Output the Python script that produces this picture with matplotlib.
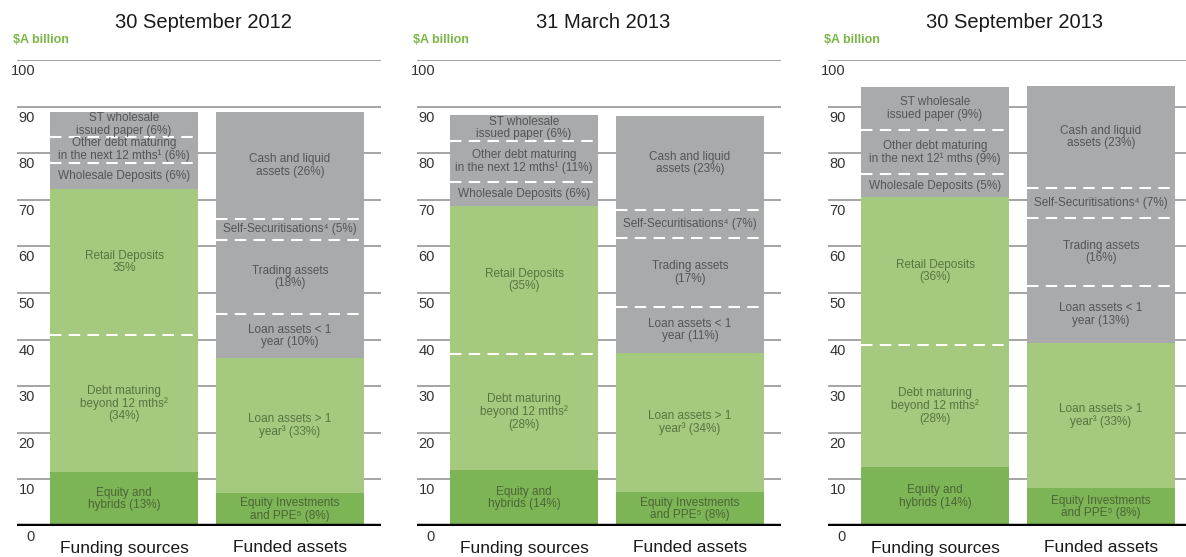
import matplotlib
matplotlib.use('Agg')
import matplotlib.pyplot as plt

plt.rcParams['font.family'] = ['Liberation Sans', 'DejaVu Sans']

# Panel titles and bar categories
dates = ['30 September 2012', '31 March 2013', '30 September 2013']
bar_names = ['Funding sources', 'Funded assets']
y_ticks = [0, 10, 20, 30, 40, 50, 60, 70, 80, 90, 100]

# Segment values in $A billion, bottom to top
sep12_funding = [11.6, 29.4, 31.3, 5.6, 5.6, 5.3]
sep12_assets = [7.1, 28.9, 9.5, 15.9, 4.5, 22.9]
mar13_funding = [12.0, 24.9, 31.8, 5.1, 8.8, 5.6]
mar13_assets = [7.3, 29.8, 9.9, 14.8, 6.0, 20.2]
sep13_funding = [12.7, 26.1, 31.8, 4.9, 9.5, 9.2]
sep13_assets = [8.2, 31.1, 12.2, 14.6, 6.4, 21.9]

sep12_funding_labels = ['Equity and\nhybrids (13%)', 'Debt maturing\nbeyond 12 mths²\n(34%)',
                        'Retail Deposits\n35%', 'Wholesale Deposits (6%)',
                        'Other debt maturing\nin the next 12 mths¹ (6%)', 'ST wholesale\nissued paper (6%)']
sep12_assets_labels = ['Equity Investments\nand PPE⁵ (8%)', 'Loan assets > 1\nyear³ (33%)',
                       'Loan assets < 1\nyear (10%)', 'Trading assets\n(18%)',
                       'Self-Securitisations⁴ (5%)', 'Cash and liquid\nassets (26%)']
mar13_funding_labels = ['Equity and\nhybrids (14%)', 'Debt maturing\nbeyond 12 mths²\n(28%)',
                        'Retail Deposits\n(35%)', 'Wholesale Deposits (6%)',
                        'Other debt maturing\nin the next 12 mths¹ (11%)', 'ST wholesale\nissued paper (6%)']
mar13_assets_labels = ['Equity Investments\nand PPE⁵ (8%)', 'Loan assets > 1\nyear³ (34%)',
                       'Loan assets < 1\nyear (11%)', 'Trading assets\n(17%)',
                       'Self-Securitisations⁴ (7%)', 'Cash and liquid\nassets (23%)']
sep13_funding_labels = ['Equity and\nhybrids (14%)', 'Debt maturing\nbeyond 12 mths²\n(28%)',
                        'Retail Deposits\n(36%)', 'Wholesale Deposits (5%)',
                        'Other debt maturing\nin the next 12¹ mths (9%)', 'ST wholesale\nissued paper (9%)']
sep13_assets_labels = ['Equity Investments\nand PPE⁵ (8%)', 'Loan assets > 1\nyear³ (33%)',
                       'Loan assets < 1\nyear (13%)', 'Trading assets\n(16%)',
                       'Self-Securitisations⁴ (7%)', 'Cash and liquid\nassets (23%)']

DARK = '#7db456'
LIGHT = '#a5c97f'
GREY = '#a9aaac'
funding_colors = [DARK, LIGHT, LIGHT, GREY, GREY, GREY]
assets_colors = [DARK, LIGHT, GREY, GREY, GREY, GREY]
text_colors = {DARK: '#4a6636', LIGHT: '#58753f', GREY: '#555555'}

panels = [
    (sep12_funding, sep12_funding_labels, sep12_assets, sep12_assets_labels),
    (mar13_funding, mar13_funding_labels, mar13_assets, mar13_assets_labels),
    (sep13_funding, sep13_funding_labels, sep13_assets, sep13_assets_labels),
]

W, H = 1186, 557
fig = plt.figure(figsize=(W / 100, H / 100), dpi=100)
fig.patch.set_facecolor('white')

ax_left_px = [17, 417, 828]
ax_w_px = 364
base_px = 526   # from top
top_px = 60
bar_w = 0.89


def draw_stack(ax, x, values, labels, colors):
    bottom = 0
    for i, (v, lab, c) in enumerate(zip(values, labels, colors)):
        ax.bar(x, v, bottom=bottom, width=bar_w, color=c, edgecolor='none', zorder=2)
        ax.text(x, bottom + v / 2, lab, ha='center', va='center', fontsize=8.5,
                color=text_colors[c], linespacing=1.05, zorder=4)
        if i > 0 and colors[i - 1] == c:
            ax.plot([x - bar_w / 2, x + bar_w / 2], [bottom, bottom], color='white',
                    lw=1.5, ls=(0, (5.5, 3.5)), zorder=3, solid_capstyle='butt')
        bottom += v


for k, (fund, fund_lab, assets, assets_lab) in enumerate(panels):
    ax = fig.add_axes([ax_left_px[k] / W, (H - base_px) / H, ax_w_px / W, (base_px - top_px) / H])
    ax.set_xlim(-0.645, 1.548)
    ax.set_ylim(0, 100)
    ax.axis('off')

    for t in y_ticks[1:]:
        ax.axhline(t, color='#8c8c8c', lw=1.1, zorder=1)
    ax.axhline(0, color='black', lw=3.2, zorder=5)

    for t in y_ticks:
        ax.annotate(str(t), xy=(0, t), xycoords=('axes fraction', 'data'),
                    xytext=(18, -4), textcoords='offset pixels',
                    ha='right', va='top', fontsize=10.5, color='#333333')

    ax.annotate('$A billion', xy=(0, 100), xycoords=('axes fraction', 'data'),
                xytext=(-4, 20), textcoords='offset pixels',
                ha='left', va='center', fontsize=9, fontweight='bold', color='#7ab648')
    ax.annotate(dates[k], xy=(0.5, 100), xycoords=('axes fraction', 'data'),
                xytext=(4, 38), textcoords='offset pixels',
                ha='center', va='center', fontsize=14.5, color='#1a1a1a')

    draw_stack(ax, 0, fund, fund_lab, funding_colors)
    draw_stack(ax, 1, assets, assets_lab, assets_colors)

    for x, name in enumerate(bar_names):
        ax.annotate(name, xy=(x, 0), xycoords='data', xytext=(0, -22),
                    textcoords='offset pixels', ha='center', va='center',
                    fontsize=12.5, color='#1a1a1a', annotation_clip=False)

fig.savefig('out.png', dpi=100, facecolor='white')
